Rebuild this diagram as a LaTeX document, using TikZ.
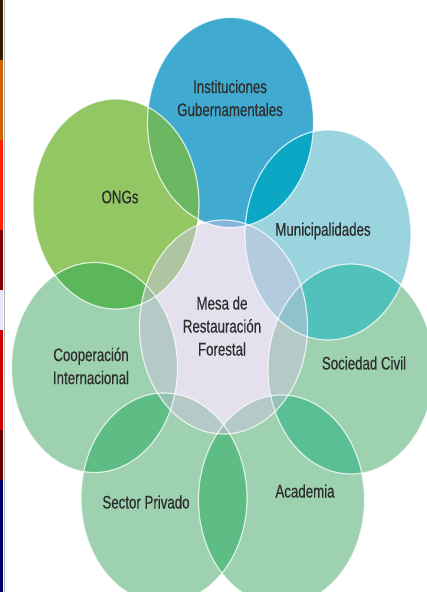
\documentclass[tikz,border=0pt]{standalone}
\usepackage{fontspec}
\setmainfont{Liberation Sans}[FakeStretch=0.73,FakeBold=0.35]
\usepackage{tikz}
\usetikzlibrary{positioning}
\definecolor{gobc}{RGB}{64,170,208}
\definecolor{ongc}{RGB}{146,199,100}
\definecolor{munc}{RGB}{154,213,223}
\definecolor{grnc}{RGB}{157,209,176}
\definecolor{mesac}{RGB}{205,195,223}
\definecolor{gobong}{RGB}{108,184,98}
\definecolor{gobmun}{RGB}{10,168,196}
\definecolor{ongcoop}{RGB}{91,183,90}
\definecolor{munsoc}{RGB}{83,193,187}
\definecolor{grngrn}{RGB}{93,189,133}
\definecolor{acadsoc}{RGB}{91,191,150}
\definecolor{txtc}{RGB}{45,45,45}
\tikzstyle{rim}=[draw=white,draw opacity=0.75,line width=1.2pt]
\tikzstyle{lbl}=[text=txtc,align=center,inner sep=0pt,font=\fontsize{18.2}{23}\selectfont]

\begin{document}
\begin{tikzpicture}[x=1pt,y=-1pt,x radius=83pt,y radius=105pt]
\fill[white] (0,0) rectangle (427,592);
\useasboundingbox (0,0) rectangle (427,592);
% screen edge
\fill[black!80!orange] (0,0) rectangle (3,60);
\fill[orange!80!black] (0,60) rectangle (3,140);
\fill[red!75!orange] (0,140) rectangle (3,230);
\fill[red!50!black] (0,230) rectangle (3,290);
\fill[blue!10] (0,290) rectangle (3,330);
\fill[red!80!black] (0,330) rectangle (3,430);
\fill[red!40!black] (0,430) rectangle (3,480);
\fill[blue!40!black] (0,480) rectangle (3,592);
\fill[black!30] (4,0) rectangle (5,592);

\coordinate (gob) at (230.5,122.5);
\coordinate (ong) at (116,204);
\coordinate (mun) at (328,235);
\coordinate (mesa) at (223.5,327);
\coordinate (coop) at (94.5,367.5);
\coordinate (soc) at (351,369);
\coordinate (priv) at (164,498);
\coordinate (acad) at (281.5,500);

% circles
\fill[gobc] (gob) ellipse;
\fill[ongc] (ong) ellipse;
\fill[munc] (mun) ellipse;
\fill[grnc] (coop) ellipse;
\fill[grnc] (soc) ellipse;
\fill[grnc] (priv) ellipse;
\fill[grnc] (acad) ellipse;

% overlaps
\begin{scope}\clip (gob) ellipse; \fill[gobong] (ong) ellipse;\end{scope}
\begin{scope}\clip (gob) ellipse; \fill[gobmun] (mun) ellipse;\end{scope}
\begin{scope}\clip (ong) ellipse; \fill[ongcoop] (coop) ellipse;\end{scope}
\begin{scope}\clip (mun) ellipse; \fill[munsoc] (soc) ellipse;\end{scope}
\begin{scope}\clip (coop) ellipse; \fill[grngrn] (priv) ellipse;\end{scope}
\begin{scope}\clip (priv) ellipse; \fill[grngrn] (acad) ellipse;\end{scope}
\begin{scope}\clip (acad) ellipse; \fill[acadsoc] (soc) ellipse;\end{scope}

\fill[mesac,fill opacity=0.5] (mesa) ellipse [x radius=84pt,y radius=107pt];

% rims
\foreach \c in {gob,ong,mun,coop,soc,priv,acad}
  \path[rim] (\c) ellipse;
\path[rim] (mesa) ellipse [x radius=84pt,y radius=107pt];

% labels
\node[lbl] (gobt) at (230,98) {Instituciones\\Gubernamentales};
\node[lbl] (ongt) at (120,197) {ONGs};
\node[lbl] (munt) at (323,231) {Municipalidades};
\node[lbl] (mesat) at (222,326) {Mesa de\\Restauración\\Forestal};
\node[lbl] (coopt) at (91,366) {Cooperación\\Internacional};
\node[lbl] (soct) at (364,363) {Sociedad Civil};
\node[lbl] (privt) at (146,502) {Sector Privado};
\node[lbl] (acadt) at (305,491) {Academia};
\end{tikzpicture}
\end{document}
